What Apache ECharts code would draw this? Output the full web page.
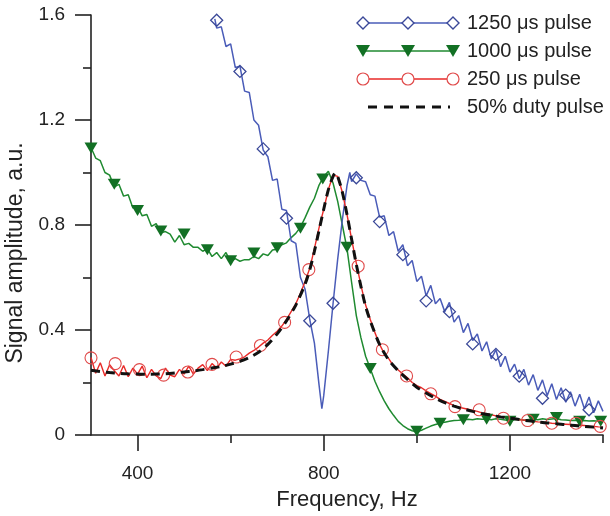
<!DOCTYPE html>
<html><head><meta charset="utf-8">
<script src="https://cdn.jsdelivr.net/npm/echarts@6/dist/echarts.min.js"></script>
<style>html,body{margin:0;padding:0;background:#fff}#c{width:610px;height:516px}</style>
</head><body><div id="c"></div>
<script>
const seriesNames = ['1250 \u03bcs pulse', '1000 \u03bcs pulse', '250 \u03bcs pulse', '50% duty pulse'];
const xTickMajor = [400, 800, 1200];
const xTickMinor = [600, 1000, 1400];
const xTitle = 'Frequency, Hz';
const yTitle = 'Signal amplitude, a.u.';

// 1250 us pulse (blue)
const freqBlue = [566,570,580,590,600,610,620,630,640,650,660,670,680,690,700,710,720,730,740,750,760,770,780,790,796,800,810,820,830,840,850,856,860,870,880,890,900,910,920,930,940,950,960,970,980,990,1000,1010,1020,1030,1040,1050,1060,1070,1080,1090,1100,1110,1120,1130,1140,1150,1160,1170,1180,1190,1200,1210,1220,1230,1240,1250,1260,1270,1280,1290,1300,1310,1320,1330,1340,1350,1360,1370,1380,1390,1400];
const blue = [1.585,1.55,1.555,1.48,1.49,1.40,1.405,1.31,1.305,1.20,1.18,1.085,1.06,0.97,0.975,0.86,0.855,0.74,0.73,0.60,0.555,0.44,0.35,0.19,0.10,0.15,0.32,0.50,0.67,0.82,0.95,1.00,0.965,0.995,0.97,0.965,0.915,0.91,0.83,0.835,0.76,0.775,0.70,0.725,0.645,0.665,0.585,0.605,0.53,0.57,0.50,0.52,0.47,0.505,0.43,0.455,0.39,0.425,0.36,0.385,0.32,0.355,0.29,0.325,0.26,0.30,0.24,0.27,0.215,0.25,0.19,0.23,0.17,0.21,0.15,0.195,0.135,0.18,0.125,0.165,0.11,0.155,0.10,0.145,0.085,0.13,0.09];
const blueMarkF = [570,620,670,720,770,820,870,920,970,1020,1070,1120,1170,1220,1270,1320,1370];
const blueMarkV = [1.58,1.385,1.09,0.826,0.435,0.502,0.98,0.813,0.687,0.511,0.47,0.347,0.307,0.224,0.14,0.152,0.096];

// 1000 us pulse (green) and 250 us pulse (red), 10 Hz steps
const freqGR = [300,310,320,330,340,350,360,370,380,390,400,410,420,430,440,450,460,470,480,490,500,510,520,530,540,550,560,570,580,590,600,610,620,630,640,650,660,670,680,690,700,710,720,730,740,750,760,770,780,790,800,810,820,830,840,850,860,870,880,890,900,910,920,930,940,950,960,970,980,990,1000,1010,1020,1030,1040,1050,1060,1070,1080,1090,1100,1110,1120,1130,1140,1150,1160,1170,1180,1190,1200,1210,1220,1230,1240,1250,1260,1270,1280,1290,1300,1310,1320,1330,1340,1350,1360,1370,1380,1390,1400];
const green = [1.095,1.055,1.045,1.0,0.99,0.945,0.955,0.91,0.915,0.865,0.87,0.835,0.84,0.795,0.805,0.77,0.775,0.765,0.735,0.76,0.725,0.73,0.715,0.715,0.70,0.71,0.68,0.695,0.672,0.695,0.660,0.672,0.662,0.668,0.668,0.680,0.672,0.690,0.684,0.705,0.708,0.725,0.732,0.752,0.768,0.792,0.828,0.868,0.902,0.952,0.985,1.005,0.960,0.890,0.800,0.710,0.580,0.455,0.370,0.300,0.253,0.205,0.165,0.130,0.100,0.075,0.052,0.036,0.024,0.016,0.012,0.018,0.026,0.034,0.040,0.045,0.049,0.052,0.055,0.056,0.058,0.060,0.058,0.062,0.060,0.061,0.058,0.062,0.060,0.057,0.055,0.058,0.060,0.056,0.059,0.060,0.058,0.062,0.059,0.061,0.063,0.058,0.057,0.055,0.056,0.054,0.055,0.053,0.054,0.052,0.053];
const greenMarkF = [300,350,400,450,500,550,600,650,700,750,798,850,900,1000,1050,1100,1150,1200,1250,1300,1350,1395];
const greenMarkV = [1.093,0.955,0.855,0.777,0.766,0.706,0.664,0.693,0.713,0.788,0.975,0.715,0.253,0.014,0.045,0.058,0.060,0.052,0.060,0.067,0.052,0.052];

const red = [0.295,0.235,0.275,0.225,0.268,0.245,0.225,0.265,0.222,0.255,0.232,0.262,0.218,0.25,0.225,0.215,0.255,0.228,0.222,0.25,0.232,0.262,0.232,0.255,0.268,0.245,0.272,0.255,0.278,0.262,0.288,0.285,0.29,0.298,0.312,0.322,0.335,0.35,0.362,0.38,0.395,0.415,0.44,0.47,0.50,0.54,0.585,0.635,0.71,0.79,0.86,0.935,0.99,0.985,0.925,0.84,0.745,0.655,0.57,0.495,0.44,0.39,0.345,0.31,0.29,0.262,0.248,0.232,0.218,0.20,0.188,0.18,0.168,0.158,0.148,0.136,0.128,0.12,0.112,0.106,0.102,0.098,0.094,0.09,0.084,0.081,0.077,0.073,0.069,0.067,0.064,0.061,0.058,0.057,0.054,0.052,0.05,0.049,0.047,0.045,0.044,0.042,0.041,0.04,0.038,0.037,0.036,0.034,0.033,0.031,0.03];
const redMarkF = [300,352,404,456,508,560,612,664,716,768,874,926,978,1030,1082,1134,1186,1238,1290,1342,1394];
const redMarkV = [0.294,0.272,0.249,0.228,0.240,0.269,0.297,0.341,0.429,0.63,0.643,0.325,0.225,0.157,0.108,0.096,0.064,0.055,0.045,0.045,0.033];

// 50% duty pulse (black dashed)
const freqBlack = [300,320,340,360,380,400,420,440,460,480,500,520,540,560,580,600,620,640,660,680,700,720,740,760,770,780,790,800,810,820,825,830,840,850,860,870,880,890,900,920,940,960,980,1000,1020,1040,1060,1080,1100,1120,1140,1160,1180,1200,1220,1240,1260,1280,1300,1320,1340,1360,1380,1400];
const black = [0.247,0.242,0.238,0.235,0.233,0.232,0.231,0.232,0.233,0.236,0.240,0.244,0.249,0.255,0.261,0.270,0.281,0.295,0.315,0.345,0.385,0.435,0.495,0.575,0.630,0.700,0.780,0.860,0.935,0.985,0.998,0.985,0.925,0.840,0.745,0.650,0.565,0.490,0.435,0.345,0.285,0.245,0.212,0.182,0.160,0.140,0.123,0.110,0.099,0.090,0.082,0.075,0.069,0.064,0.059,0.054,0.050,0.046,0.043,0.039,0.036,0.033,0.030,0.027];

const zip = (a, b) => a.map((v, i) => [v, b[i]]);
const C = {
  blueLine: '#4a5cb8', blueMark: '#3a4898',
  greenLine: '#1f8a30', greenMark: '#127024',
  redLine: '#e82a28', redMark: '#e04a4a',
  black: '#111'
};
const FONT = 'Liberation Sans, Arial, sans-serif';

const chart = echarts.init(document.getElementById('c'), null, {renderer: 'canvas'});

// legend drawn as graphic
const legendY = [23, 51, 79, 107];
const lx0 = 363, lx1 = 453, lxm = 408, tx = 467;
const g = [];
function diamond(cx, cy, col) {
  return {type: 'polygon', shape: {points: [[cx, cy - 6], [cx + 6, cy], [cx, cy + 6], [cx - 6, cy]]}, style: {fill: '#fff', stroke: col, lineWidth: 1.4}};
}
function tri(cx, cy, col) {
  return {type: 'polygon', shape: {points: [[cx - 7, cy - 6], [cx + 7, cy - 6], [cx, cy + 6]]}, style: {fill: col}};
}
function circ(cx, cy, col) {
  return {type: 'circle', shape: {cx: cx, cy: cy, r: 6}, style: {fill: '#fff', stroke: col, lineWidth: 1.2}};
}
[[C.blueLine, C.blueMark, diamond], [C.greenLine, C.greenMark, tri], [C.redLine, C.redMark, circ]].forEach((d, i) => {
  const y = legendY[i];
  g.push({type: 'line', shape: {x1: lx0, y1: y, x2: lx1, y2: y}, style: {stroke: d[0], lineWidth: 1.5}});
  [lx0, lxm, lx1].forEach(x => g.push(d[2](x, y, d[1])));
});
g.push({type: 'line', shape: {x1: 368, y1: legendY[3], x2: 450, y2: legendY[3]}, style: {stroke: C.black, lineWidth: 3, lineDash: [9, 7]}});
seriesNames.forEach((n, i) => g.push({type: 'text', x: tx, y: legendY[i], style: {text: n, fill: '#222', font: '20px ' + FONT, textVerticalAlign: 'middle', textAlign: 'left'}}));
g.push({type: 'text', x: 16, y: 253, rotation: Math.PI / 2, style: {text: yTitle, fill: '#222', font: '23px ' + FONT, textAlign: 'center', textVerticalAlign: 'middle'}});

const axisLine = {show: true, lineStyle: {color: '#222', width: 1.6}};
chart.setOption({
  animation: false,
  backgroundColor: '#fff',
  grid: {left: 91, right: 7, top: 15, bottom: 77, containLabel: false},
  xAxis: [{
    type: 'value', min: 300, max: 1400, position: 'bottom',
    axisLine: axisLine,
    axisTick: {show: true, customValues: xTickMajor, length: 16, lineStyle: {color: '#222', width: 1.6}},
    axisLabel: {customValues: xTickMajor, fontSize: 19, color: '#222', fontFamily: FONT, margin: 29, formatter: v => String(v)},
    splitLine: {show: false},
    name: xTitle, nameLocation: 'middle', nameGap: 54,
    nameTextStyle: {fontSize: 22, color: '#222', fontFamily: FONT}
  }, {
    type: 'value', min: 300, max: 1400, position: 'bottom', gridIndex: 0,
    axisLine: {show: false},
    axisTick: {show: true, customValues: xTickMinor, length: 8, lineStyle: {color: '#222', width: 1.6}},
    axisLabel: {show: false}, splitLine: {show: false}
  }],
  yAxis: {
    type: 'value', min: 0, max: 1.6, interval: 0.4,
    axisLine: axisLine,
    axisTick: {show: true, length: 16, lineStyle: {color: '#222', width: 1.6}},
    minorTick: {show: true, splitNumber: 2, length: 8, lineStyle: {color: '#222', width: 1.6}},
    minorSplitLine: {show: false},
    axisLabel: {fontSize: 19, color: '#222', fontFamily: FONT, margin: 26, formatter: v => (v === 0 ? '0' : v.toFixed(1))},
    splitLine: {show: false}
  },
  graphic: g,
  series: [
    {name: seriesNames[1], type: 'line', data: zip(freqGR, green), showSymbol: false, lineStyle: {color: C.greenLine, width: 1.5}, z: 2},
    {type: 'scatter', data: zip(greenMarkF, greenMarkV), symbol: 'triangle', symbolRotate: 180, symbolSize: [13, 11], itemStyle: {color: C.greenMark, opacity: 1}, z: 3},
    {name: seriesNames[0], type: 'line', data: zip(freqBlue, blue), showSymbol: false, lineStyle: {color: C.blueLine, width: 1.5}, z: 2},
    {type: 'scatter', data: zip(blueMarkF, blueMarkV), symbol: 'diamond', symbolSize: 12, itemStyle: {color: 'rgba(255,255,255,0)', borderColor: C.blueMark, borderWidth: 1.3, opacity: 1}, z: 3},
    {name: seriesNames[2], type: 'line', data: zip(freqGR, red), showSymbol: false, lineStyle: {color: C.redLine, width: 1.4}, z: 2},
    {type: 'scatter', data: zip(redMarkF, redMarkV), symbol: 'circle', symbolSize: 12, itemStyle: {color: 'rgba(255,255,255,0)', borderColor: C.redMark, borderWidth: 1.1, opacity: 1}, z: 3},
    {name: seriesNames[3], type: 'line', data: zip(freqBlack, black), showSymbol: false, smooth: 0.3, lineStyle: {color: C.black, width: 3, type: [9, 6]}, z: 4}
  ]
});
</script></body></html>
